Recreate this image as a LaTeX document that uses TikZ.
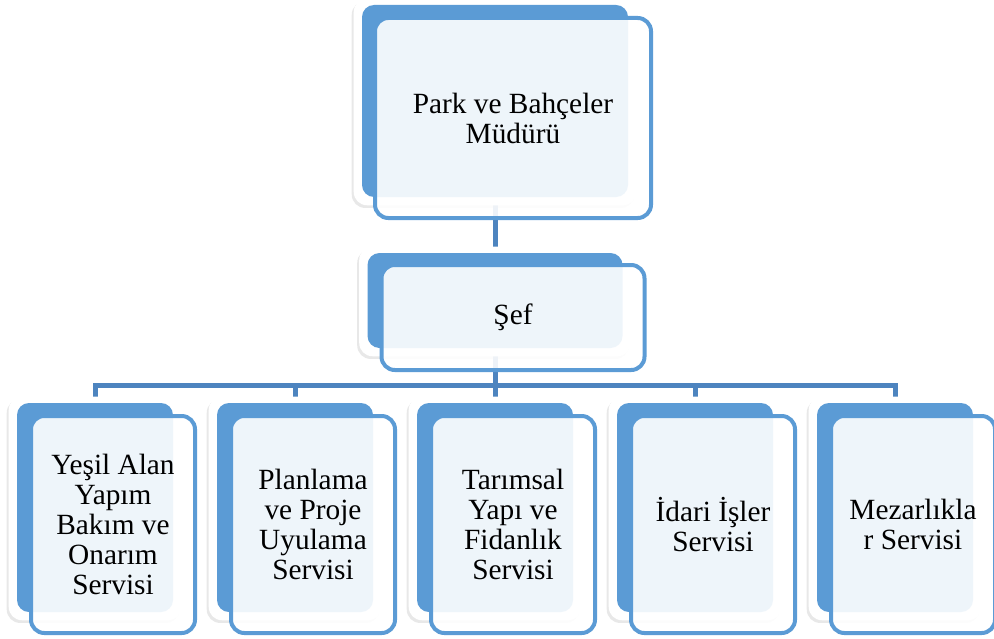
\documentclass[tikz,border=0pt]{standalone}
\usepackage{fontspec}
\setmainfont{Liberation Serif}
\usetikzlibrary{calc,shadows}
\definecolor{mavi}{HTML}{5B9BD5}
\definecolor{koyumavi}{HTML}{4D84BF}
\pgfdeclarelayer{cizgiler}
\pgfdeclarelayer{cerceveler}
\pgfsetlayers{cizgiler,cerceveler,main}

\begin{document}
\begin{tikzpicture}[x=0.75pt, y=-0.75pt,
    every node/.style={font=\fontsize{22}{22.5}\selectfont},
    arka/.style={rectangle, rounded corners=9pt, fill=mavi, inner sep=0pt},
    onkutu/.style={rectangle, rounded corners=10pt, draw=mavi, line width=3pt,
      fill=white, fill opacity=0.9, text opacity=1, inner sep=0pt, align=center},
    cerceve/.style={fill=white, rounded corners=10pt,
      drop shadow={shadow xshift=-1.5pt, shadow yshift=-2pt, opacity=0.18, fill=black!50}},
    baglanti/.style={draw=koyumavi, line width=3.75pt}]
    \useasboundingbox (0,0) rectangle (994,638);

    % arka kutular
    \node[arka, minimum width=199.5pt, minimum height=144pt] (mudur) at (495,101) {};
    \node[arka, minimum width=191.25pt, minimum height=71.25pt] (sef) at (495,300.5) {};
    \foreach \i in {1,...,5}
      \node[arka, minimum width=117pt, minimum height=156.75pt] (s\i) at ({200*\i-105},507.5) {};

    % ön kutular
    \node[onkutu, minimum width=207pt, minimum height=150pt] (mudur-y) at ($(mudur)+(18,17)$) {Park ve Bahçeler\\Müdürü};
    \node[onkutu, minimum width=197.25pt, minimum height=78.75pt] (sef-y) at ($(sef)+(18,17)$) {Şef};
    \foreach \i/\metin in {1/{Yeşil Alan\\Yapım\\Bakım ve\\Onarım\\Servisi},
                           2/{Planlama\\ve Proje\\Uyulama\\Servisi},
                           3/{Tarımsal\\Yapı ve\\Fidanlık\\Servisi},
                           4/{İdari İşler\\Servisi},
                           5/{Mezarlıkla\\r Servisi}}
      \node[onkutu, minimum width=123pt, minimum height=162.75pt] (s\i-y) at ($(s\i)+(18,17)$) {\metin};

    % çerçeveler
    \begin{pgfonlayer}{cerceveler}
      \foreach \n in {mudur,sef,s1,s2,s3,s4,s5}
        \fill[cerceve] ($(\n.north west)+(-8,-6)$) rectangle ($(\n.south east)+(8,8)$);
    \end{pgfonlayer}

    % bağlantılar
    \begin{pgfonlayer}{cizgiler}
      \draw[baglanti] (mudur.south) -- (sef.north);
      \foreach \i in {1,...,5}
        \draw[baglanti] (sef.south) -- ++(0,37) -| (s\i.north);
    \end{pgfonlayer}
  \end{tikzpicture}
\end{document}
